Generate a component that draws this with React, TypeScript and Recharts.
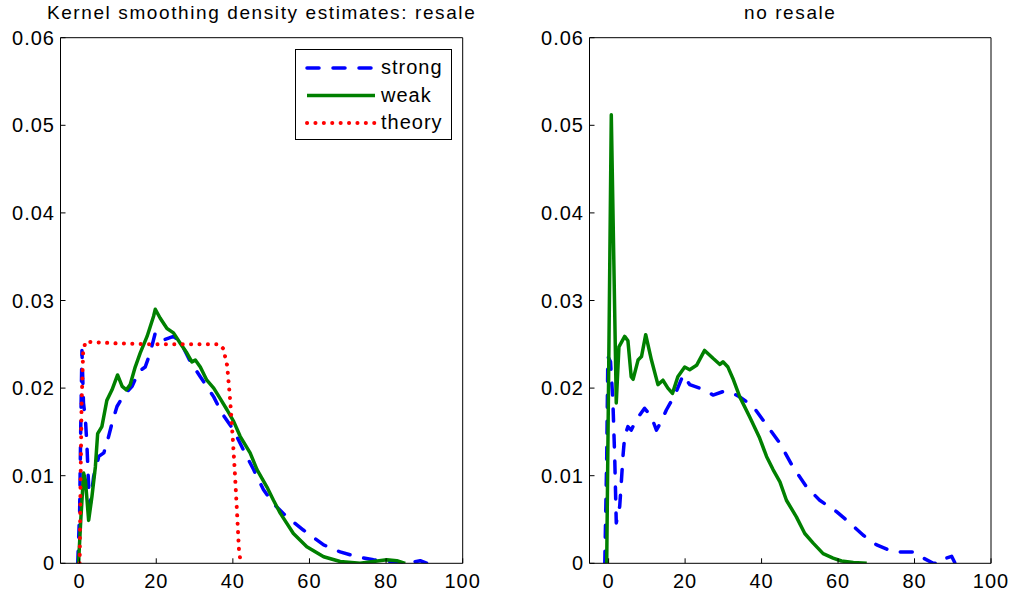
import { LineChart, Line, XAxis, YAxis, Legend } from "recharts"

const xTicks = [0, 20, 40, 60, 80, 100]
const yTicks = [0, 0.01, 0.02, 0.03, 0.04, 0.05, 0.06]
const panelTitles = ["Kernel smoothing density estimates: resale", "no resale"]
const seriesNames = ["strong", "weak", "theory"]

// [x, density] pairs
const resaleStrong = [
  [-0.5, 0], [0, 0.006], [0.3, 0.016], [0.6, 0.0243], [1.0, 0.0183], [1.5, 0.0165],
  [1.9, 0.0135], [2.35, 0.0087], [2.7, 0.0065], [3.65, 0.0099], [5, 0.0122], [6.3, 0.0126],
  [7.1, 0.0137], [8.45, 0.016], [9.75, 0.0179], [11.5, 0.0192], [13.7, 0.0202], [15.4, 0.0219],
  [17.1, 0.0224], [18.4, 0.024], [19.75, 0.0263], [21.9, 0.0255], [24.5, 0.0259], [26.3, 0.0253],
  [28.9, 0.023], [31.5, 0.0213], [35, 0.019], [37.2, 0.0171], [40.2, 0.0152], [42.8, 0.0129],
  [45.4, 0.0107], [48, 0.0084], [50.6, 0.0068], [54.1, 0.0053], [58.4, 0.0038], [63.7, 0.0021],
  [68, 0.0013], [72.4, 0.00075], [76.7, 0.0004], [81, 0.0002], [85.4, 0], [88.9, 0.0003],
  [90.6, 0], [92.4, 0.0002],
]

const resaleWeak = [
  [-0.3, 0], [0.3, 0.005], [1.04, 0.0103], [1.5, 0.0095], [2.35, 0.0049], [3.2, 0.0076],
  [4.1, 0.011], [4.7, 0.0148], [5.8, 0.0156], [7.1, 0.0186], [8.45, 0.0198], [9.9, 0.0215],
  [11.1, 0.0202], [12.2, 0.0198], [13.2, 0.0204], [14.5, 0.0224], [15.8, 0.024], [17.6, 0.0259],
  [19.3, 0.0282], [19.75, 0.029], [21, 0.028], [22.8, 0.0268], [24.5, 0.0263], [26.3, 0.0251],
  [28, 0.024], [29.3, 0.023], [30.2, 0.0232], [31.5, 0.0224], [33.2, 0.0209], [35, 0.02],
  [36.7, 0.0188], [38.5, 0.0175], [40.2, 0.0162], [41.9, 0.0145], [44.5, 0.0126], [46.3, 0.0107],
  [48.9, 0.0087], [50.6, 0.0072], [52.4, 0.0057], [55.8, 0.0034], [59.3, 0.0019], [63.7, 0.00075],
  [68, 0.0002], [73.2, 0], [76.7, 0.0002], [80.2, 0.0004], [82.8, 0.0003], [85, 0],
]

const resaleTheory = [
  [0, 0], [0.2, 0.008], [0.5, 0.018], [0.9, 0.024], [1.5, 0.0253], [10, 0.0251], [20, 0.025],
  [30, 0.025], [36.5, 0.025], [37.5, 0.0245], [38.5, 0.0226], [39.3, 0.0186], [40, 0.0141],
  [40.5, 0.0105], [41, 0.0065], [41.6, 0.0015], [42, 0.0002],
]

const noResaleStrong = [
  [-1, 0], [-0.5, 0.012], [-0.2, 0.0236], [0.5, 0.023], [1.1, 0.0187], [1.6, 0.012], [2.0, 0.0046],
  [2.9, 0.0065], [3.3, 0.0091], [3.75, 0.0122], [4.2, 0.0145], [5.05, 0.0156], [5.9, 0.0152],
  [7.25, 0.0164], [9.4, 0.0177], [11.2, 0.0167], [12.5, 0.0152], [13.8, 0.0162], [15.1, 0.0175],
  [17.3, 0.0192], [19.5, 0.0215], [21.2, 0.0204], [23.8, 0.02], [25.6, 0.0197], [27.3, 0.0192],
  [29.9, 0.0196], [31.7, 0.0196], [34.3, 0.019], [37.8, 0.0179], [41.3, 0.0158], [44.8, 0.0137],
  [48.2, 0.011], [51.8, 0.0087], [55.2, 0.0072], [59.6, 0.0059], [63.1, 0.0046], [66.6, 0.0032],
  [70.1, 0.0021], [74.4, 0.0013], [79.7, 0.0013], [82.3, 0.0006], [84.9, 0], [87.1, 0],
  [88.4, 0.0006], [89.7, 0.0008], [90.6, 0],
]

const noResaleWeak = [
  [-0.5, 0], [0.7, 0.0512], [2.0, 0.0183], [2.7, 0.0247], [4.2, 0.0259], [5.05, 0.0254],
  [5.9, 0.0213], [6.4, 0.021], [7.7, 0.0232], [8.6, 0.0236], [9.7, 0.0261], [11.2, 0.0232],
  [12.9, 0.0204], [14.2, 0.0209], [15.5, 0.02], [16.7, 0.0194], [18.1, 0.0213], [19.9, 0.0224],
  [21.2, 0.0221], [23, 0.0226], [25.1, 0.0243], [27.3, 0.0234], [29.1, 0.0227], [29.9, 0.023],
  [31.2, 0.0224], [32.5, 0.0211], [34.3, 0.019], [36.9, 0.0167], [39.5, 0.0143], [41.3, 0.0122],
  [43, 0.0107], [44.8, 0.0093], [46.5, 0.0072], [49.1, 0.0053], [51.3, 0.0034], [53.5, 0.0023],
  [56.1, 0.0011], [58.7, 0.0006], [60.9, 0.00026], [64, 0.0001], [67.5, 0],
]

const toPoints = (pairs: number[][]) => pairs.map(([x, y]) => ({ x, y }))

const FONT = "'Liberation Sans', Arial, Helvetica, sans-serif"

const styles: Record<string, any> = {
  strong: { stroke: "#0000ff", strokeWidth: 3.5, strokeDasharray: "12 14", strokeLinecap: "round" },
  weak: { stroke: "#008000", strokeWidth: 3.5 },
  theory: { stroke: "#ff0000", strokeWidth: 4, strokeDasharray: "0.1 8.3", strokeLinecap: "round" },
}

const LegendBox = () => (
  <svg width={157} height={91} style={{ display: "block" }}>
    <rect x={0.5} y={0.5} width={156} height={90} fill="#fff" stroke="#000" strokeWidth={1} />
    {seriesNames.map((name, i) => {
      const base = 25 + i * 27.5
      return (
        <g key={name}>
          <line x1={12} x2={80} y1={base - 6} y2={base - 6} {...styles[name]} />
          <text x={86} y={base} fontSize={20} fill="#000">{name}</text>
        </g>
      )
    })}
  </svg>
)

const fmt = (v: number) => (v === 0 ? "0" : v.toFixed(2))

type PanelProps = {
  left: number
  width: number
  yAxisWidth: number
  plotWidth: number
  title: string
  series: { name: string; data: { x: number; y: number }[] }[]
  legend?: boolean
}

function Panel({ left, width, yAxisWidth, plotWidth, title, series, legend }: PanelProps) {
  const plotLeft = left + yAxisWidth
  // 1px top/right axes hold the box edges and inward ticks
  const marginRight = width - yAxisWidth - plotWidth - 1
  return (
    <>
      <div
        style={{
          position: "absolute", left: plotLeft - 40, width: plotWidth + 80, top: 3,
          textAlign: "center", fontSize: 19, lineHeight: "19px", letterSpacing: 1.6, whiteSpace: "nowrap",
        }}
      >
        {title}
      </div>
      <LineChart
        width={width}
        height={598}
        margin={{ top: 36.7, right: marginRight, bottom: 4.7, left: 0 }}
        style={{ position: "absolute", left, top: 0 }}
      >
        <XAxis
          xAxisId="b" type="number" dataKey="x" domain={[-5, 100]} ticks={xTicks} allowDataOverflow
          interval={0} height={30} tickSize={-5} tickMargin={15.7} stroke="#000"
          tick={{ fill: "#000", fontSize: 20 }}
        />
        <XAxis
          xAxisId="t" orientation="top" type="number" dataKey="x" domain={[-5, 100]} ticks={xTicks}
          allowDataOverflow interval={0} height={1} tickSize={-5} tick={false} stroke="#000"
        />
        <YAxis
          yAxisId="l" type="number" domain={[0, 0.06]} ticks={yTicks} allowDataOverflow interval={0}
          width={yAxisWidth} tickSize={-5} tickMargin={10.5} tickFormatter={fmt} stroke="#000"
          tick={{ fill: "#000", fontSize: 20 }}
        />
        <YAxis
          yAxisId="r" orientation="right" type="number" domain={[0, 0.06]} ticks={yTicks} allowDataOverflow
          interval={0} width={1} tickSize={-5} tick={false} stroke="#000"
        />
        {series.map((s) => (
          <Line
            key={s.name}
            name={s.name}
            xAxisId="b"
            yAxisId="l"
            data={s.data}
            dataKey="y"
            type="linear"
            dot={false}
            activeDot={false}
            strokeLinejoin="round"
            isAnimationActive={false}
            {...styles[s.name]}
          />
        ))}
        {legend && (
          <Legend
            layout="vertical"
            verticalAlign="middle"
            align="center"
            wrapperStyle={{ left: 295.3, top: 48.7, width: 157, height: 91 }}
            content={() => <LegendBox />}
          />
        )}
      </LineChart>
    </>
  )
}

export default function App() {
  return (
    <div
      style={{
        position: "absolute", left: 0, top: 0, width: 1011, height: 598, background: "#fff",
        fontFamily: FONT, letterSpacing: 1, color: "#000",
      }}
    >
      <Panel
        left={0}
        width={500}
        yAxisWidth={60.5}
        plotWidth={402.2}
        title={panelTitles[0]}
        legend
        series={[
          { name: seriesNames[0], data: toPoints(resaleStrong) },
          { name: seriesNames[1], data: toPoints(resaleWeak) },
          { name: seriesNames[2], data: toPoints(resaleTheory) },
        ]}
      />
      <Panel
        left={530}
        width={481}
        yAxisWidth={59.5}
        plotWidth={401.5}
        title={panelTitles[1]}
        series={[
          { name: seriesNames[0], data: toPoints(noResaleStrong) },
          { name: seriesNames[1], data: toPoints(noResaleWeak) },
        ]}
      />
    </div>
  )
}
